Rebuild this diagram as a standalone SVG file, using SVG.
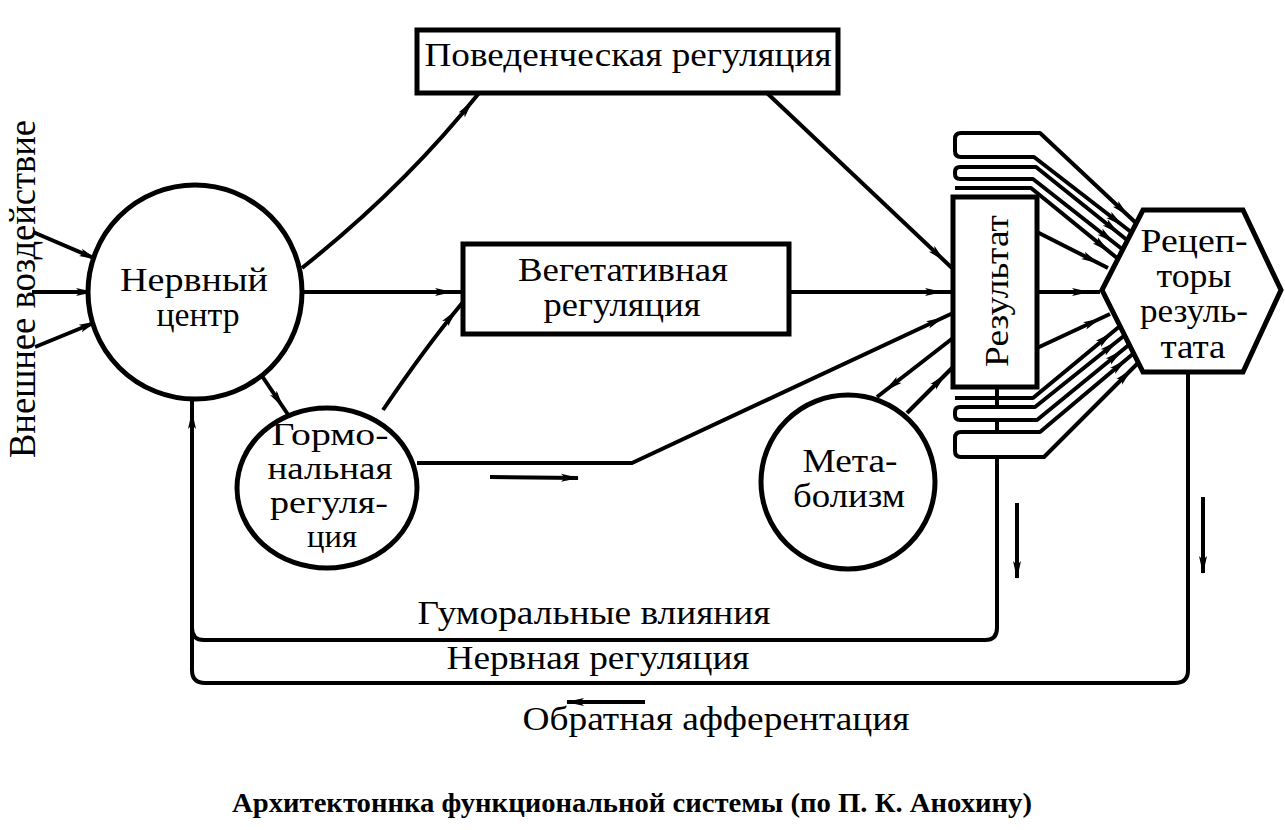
<svg xmlns="http://www.w3.org/2000/svg" width="1285" height="830" viewBox="0 0 1285 830">
<style>
.n{fill:#fff;stroke:#000;stroke-width:5}
.c{fill:none;stroke:#000;stroke-width:4;stroke-linejoin:round}
.b{fill:#fff;stroke:#000;stroke-width:4;stroke-linejoin:round}
text{font-family:"Liberation Serif","Times New Roman",serif;font-size:33px;fill:#000}
.t{text-anchor:middle}
.g{font-size:31px}
</style>
<defs>
<marker id="a" viewBox="0 0 18 11" refX="17" refY="5.5" markerWidth="18" markerHeight="11" markerUnits="userSpaceOnUse" orient="auto-start-reverse">
<path d="M0,1.5 L18,5.5 L0,9.5 L4,5.5 z" fill="#000"/>
</marker>
<marker id="am" viewBox="0 0 18 11" refX="28" refY="5.5" markerWidth="18" markerHeight="11" markerUnits="userSpaceOnUse" orient="auto-start-reverse">
<path d="M0,1.5 L18,5.5 L0,9.5 L4,5.5 z" fill="#000"/>
</marker>
</defs>
<rect width="1285" height="830" fill="#fff"/>

<g id="connectors">
<path class="c" d="M33,232 L96,259" marker-end="url(#a)"/>
<path class="c" d="M32,292 L93,292" marker-end="url(#a)"/>
<path class="c" d="M35,347 L96,322" marker-end="url(#a)"/>
<path class="c" d="M302,268 Q405,186 479,93" marker-end="url(#am)"/>
<path class="c" d="M767,93 L952,268" marker-end="url(#am)"/>
<path class="c" d="M302,292 L463,292" marker-end="url(#am)"/>
<path class="c" d="M789,292 L953,292" marker-end="url(#am)"/>
<path class="c" d="M383,410 Q425,348 463,302" marker-end="url(#am)"/>
<path class="c" d="M262,376 L289,416" marker-end="url(#am)"/>
<path class="c" d="M417,463 L632,463 L953,313" marker-end="url(#am)"/>
<path class="c" d="M490,477 L578,478" marker-end="url(#a)"/>
<path class="c" d="M953,338 L877,397" marker-end="url(#am)"/>
<path class="c" d="M907,413 L953,367" marker-end="url(#am)"/>
<path class="c" d="M997,387 L997,628 Q997,640 985,640 L204,640 Q192,640 192,628"/>
<path class="c" d="M1188,372 L1188,670 Q1188,683 1175,683 L205,683 Q192,683 192,670 L192,401" marker-end="url(#am)"/>
<path class="c" d="M1017,503 L1017,578" marker-end="url(#a)"/>
<path class="c" d="M1203,497 L1203,573" marker-end="url(#a)"/>
<path class="c" d="M645,702 L567,702" marker-end="url(#a)"/>
<path class="c" d="M1136,223 L1040,133 L961,133 Q955,133 955,139 L955,151 Q955,157 961,157 L1034,157 L1131,232" marker-start="url(#am)" marker-end="url(#am)"/>
<path class="c" d="M1127,240 L1036,167 L960,167 Q955,167 955,172 L955,174 Q955,179 960,179 L1033,179 L1122,249" marker-start="url(#am)" marker-end="url(#am)"/>
<path class="c" d="M955,188 L1031,188 L1117,258" marker-end="url(#am)"/>
<path class="c" d="M1037,232 L1108,268" marker-end="url(#am)"/>
<path class="c" d="M1037,292 L1100,292" marker-end="url(#am)"/>
<path class="c" d="M1037,348 L1110,314" marker-end="url(#am)"/>
<path class="c" d="M955,398 L1033,398 L1120,326" marker-end="url(#am)"/>
<path class="b" d="M1125,335 L1035,407 L960,407 Q955,407 955,412 L955,415 Q955,420 960,420 L1037,420 L1130,344" marker-start="url(#am)" marker-end="url(#am)"/>
<path class="b" d="M1134,353 L1040,432 L961,432 Q955,432 955,438 L955,451 Q955,457 961,457 L1044,457 L1139,362" marker-start="url(#am)" marker-end="url(#am)"/>
</g>

<g id="nervny-centr">
<circle class="n" cx="195" cy="292" r="107"/>
<text class="t" x="194" y="291" textLength="148" lengthAdjust="spacingAndGlyphs">Нервный</text>
<text class="t" x="198" y="326" textLength="83" lengthAdjust="spacingAndGlyphs">центр</text>
</g>

<g id="povedencheskaya">
<rect class="n" x="417" y="30" width="421" height="63"/>
<text class="t" x="628" y="66" textLength="407" lengthAdjust="spacingAndGlyphs">Поведенческая регуляция</text>
</g>

<g id="vegetativnaya">
<rect class="n" x="463" y="244" width="326" height="90"/>
<text class="t" x="623" y="281" textLength="210" lengthAdjust="spacingAndGlyphs">Вегетативная</text>
<text class="t" x="622" y="316" textLength="157" lengthAdjust="spacingAndGlyphs">регуляция</text>
</g>

<g id="gormonalnaya">
<ellipse class="n" cx="327" cy="488" rx="90" ry="80"/>
<text class="t g" x="330" y="445" textLength="117" lengthAdjust="spacingAndGlyphs">Гормо-</text>
<text class="t g" x="330" y="479" textLength="125" lengthAdjust="spacingAndGlyphs">нальная</text>
<text class="t g" x="329" y="513" textLength="118" lengthAdjust="spacingAndGlyphs">регуля-</text>
<text class="t g" x="332" y="547" textLength="50" lengthAdjust="spacingAndGlyphs">ция</text>
</g>

<g id="metabolizm">
<circle class="n" cx="848" cy="482" r="87"/>
<text class="t" x="850" y="472" textLength="95" lengthAdjust="spacingAndGlyphs">Мета-</text>
<text class="t" x="849" y="507" textLength="112" lengthAdjust="spacingAndGlyphs">болизм</text>
</g>

<g id="rezultat">
<rect class="n" x="953" y="197" width="84" height="190"/>
<text class="t" transform="translate(1008,291) rotate(-90)" textLength="152" lengthAdjust="spacingAndGlyphs" style="font-size:34px">Результат</text>
</g>

<g id="receptory">
<polygon class="n" points="1102,290 1143,210 1243,210 1281,290 1243,372 1143,372"/>
<text class="t" x="1194" y="252" textLength="107" lengthAdjust="spacingAndGlyphs">Рецеп-</text>
<text class="t" x="1194" y="287" textLength="75" lengthAdjust="spacingAndGlyphs">торы</text>
<text class="t" x="1194" y="322" textLength="108" lengthAdjust="spacingAndGlyphs">резуль-</text>
<text class="t" x="1193" y="358" textLength="65" lengthAdjust="spacingAndGlyphs">тата</text>
</g>

<g id="labels">
<text class="t" transform="translate(35,289) rotate(-90)" textLength="338" lengthAdjust="spacingAndGlyphs" style="font-size:37px">Внешнее воздействие</text>
<text class="t" x="594" y="624" textLength="353" lengthAdjust="spacingAndGlyphs">Гуморальные влияния</text>
<text class="t" x="598" y="669" textLength="303" lengthAdjust="spacingAndGlyphs">Нервная регуляция</text>
<text class="t" x="716" y="730" textLength="387" lengthAdjust="spacingAndGlyphs">Обратная афферентация</text>
<text class="t" x="632" y="812" textLength="800" lengthAdjust="spacingAndGlyphs" style="font-size:28px;font-weight:bold">Архитектоннка функциональной системы (по П. К. Анохину)</text>
</g>
</svg>
